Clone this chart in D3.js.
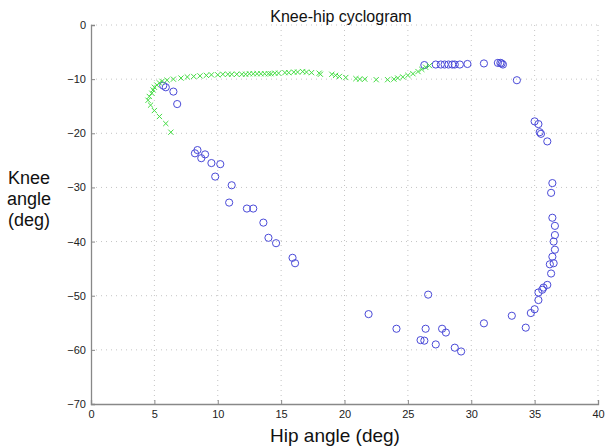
<!DOCTYPE html>
<html><head><meta charset="utf-8">
<script src="https://cdn.jsdelivr.net/npm/d3@7"></script>
<style>body{margin:0;background:#fff;font-family:Arial,"Liberation Sans",sans-serif}</style>
</head><body><svg id="c" width="611" height="446"></svg>
<script>
const xTicks = [0,5,10,15,20,25,30,35,40];
const yTicks = [0,-10,-20,-30,-40,-50,-60,-70];
const hipBlue = [26.3,27.2,27.6,27.9,28.2,28.5,28.7,29.1,29.7,31.0,32.1,32.3,32.4,32.5,33.6,
 35.0,35.3,35.4,35.5,36.0,36.4,36.3,36.4,36.6,36.6,36.5,36.6,36.4,36.5,36.2,36.3,36.0,35.7,35.6,35.3,35.3,35.0,34.7,34.3,33.2,31.0,
 26.6,21.9,24.1,26.4,27.7,28.0,26.0,26.3,27.2,28.7,29.2,
 5.7,5.9,6.5,6.8,8.2,8.4,9.0,8.7,9.5,10.2,9.8,11.1,10.9,12.3,12.8,13.6,14.0,14.6,15.9,16.1];
const kneeBlue = [-7.4,-7.3,-7.3,-7.3,-7.3,-7.3,-7.3,-7.3,-7.2,-7.1,-7.0,-7.0,-7.1,-7.3,-10.2,
 -17.8,-18.3,-19.8,-20.1,-21.5,-29.2,-31.0,-35.6,-37.1,-38.8,-40.0,-41.5,-42.8,-44.0,-44.2,-45.9,-48.0,-48.5,-48.9,-49.4,-50.8,-52.5,-53.2,-55.9,-53.7,-55.1,
 -49.8,-53.4,-56.1,-56.1,-56.1,-56.8,-58.2,-58.3,-59.0,-59.6,-60.3,
 -11.2,-11.5,-12.3,-14.6,-23.7,-23.1,-23.9,-24.6,-25.5,-25.7,-28.0,-29.6,-32.8,-33.9,-33.9,-36.5,-39.3,-40.3,-43.0,-44.0];
const hipGreen = [6.3,5.9,5.4,5.0,4.7,4.5,4.6,4.8,4.9,5.0,5.2,5.4,5.6,6.0,6.5,7.1,7.6,8.1,8.6,9.1,9.5,10.0,10.4,10.8,11.1,11.5,11.9,12.2,12.5,12.8,13.1,13.4,13.7,14.0,14.2,14.5,14.8,15.3,15.6,16.0,16.3,16.7,17.0,17.4,18.0,18.1,19.0,19.3,19.6,20.1,20.9,21.2,21.6,22.5,23.4,23.9,24.2,24.6,25.0,25.4,25.8,26.1,26.4,26.7];
const kneeGreen = [-19.8,-18.2,-16.9,-15.8,-14.8,-13.9,-13.2,-12.6,-12.0,-11.5,-11.1,-10.7,-10.4,-10.2,-10.0,-9.8,-9.6,-9.5,-9.4,-9.3,-9.2,-9.2,-9.1,-9.1,-9.1,-9.1,-9.1,-9.1,-9.0,-9.0,-9.0,-9.0,-9.0,-9.0,-9.0,-8.9,-8.9,-8.8,-8.8,-8.7,-8.7,-8.6,-8.7,-8.8,-8.9,-9.1,-9.1,-9.3,-9.5,-9.7,-9.9,-10.0,-10.0,-10.1,-10.1,-10.0,-9.8,-9.6,-9.3,-9.0,-8.6,-8.2,-7.8,-7.5];

const svg = d3.select("#c");
const L=91, R=598, T=25, B=404;
const x = d3.scaleLinear().domain([0,40]).range([L,R]);
const y = d3.scaleLinear().domain([-70,0]).range([B,T]);

// grid
const g = svg.append("g");
g.selectAll(".gx").data(xTicks.slice(1)).enter().append("line")
 .attr("x1",d=>x(d)).attr("x2",d=>x(d)).attr("y1",T).attr("y2",B)
 .attr("stroke","#c4c4c4").attr("stroke-width",1).attr("stroke-dasharray","1,4");
g.selectAll(".gy").data(yTicks.slice(0,-1)).enter().append("line")
 .attr("y1",d=>y(d)).attr("y2",d=>y(d)).attr("x1",L).attr("x2",R)
 .attr("stroke","#c4c4c4").attr("stroke-width",1).attr("stroke-dasharray","1,4");

// axes
const xa = svg.append("g").attr("transform",`translate(0,${B})`)
 .call(d3.axisBottom(x).tickValues(xTicks).tickSize(-4).tickPadding(6).tickFormat(d3.format("d")));
const ya = svg.append("g").attr("transform",`translate(${L},0)`)
 .call(d3.axisLeft(y).tickValues(yTicks).tickSize(-4).tickPadding(5).tickFormat(d=>d===0?"0":d3.format("d")(d)));
[xa,ya].forEach(a=>{
 a.select(".domain").attr("stroke","#888").attr("stroke-width",1.3);
 a.selectAll(".tick line").attr("stroke","#888");
 a.selectAll("text").attr("fill","#222").attr("font-size","11px").attr("font-family","Arial, Liberation Sans, sans-serif");
});

// data marks
svg.append("g").selectAll("circle").data(hipBlue.map((h,i)=>[h,kneeBlue[i]])).enter().append("circle")
 .attr("cx",d=>x(d[0])).attr("cy",d=>y(d[1])).attr("r",3.6)
 .attr("fill","none").attr("stroke","#4a4ad8").attr("stroke-width",1);
const s=2.6;
svg.append("g").selectAll("path").data(hipGreen.map((h,i)=>[h,kneeGreen[i]])).enter().append("path")
 .attr("d",d=>{const cx=x(d[0]),cy=y(d[1]);return `M${cx-s},${cy-s}L${cx+s},${cy+s}M${cx-s},${cy+s}L${cx+s},${cy-s}`;})
 .attr("stroke","#44dd44").attr("stroke-width",1);

// titles
svg.append("text").attr("x",341).attr("y",22).attr("text-anchor","middle")
 .attr("font-size","16px").attr("fill","#111").text("Knee-hip cyclogram");
svg.append("text").attr("x",335).attr("y",442).attr("text-anchor","middle")
 .attr("font-size","19px").attr("fill","#111").text("Hip angle (deg)");
const yl = svg.append("text").attr("text-anchor","middle").attr("font-size","18px").attr("fill","#111");
["Knee","angle","(deg)"].forEach((t,i)=>yl.append("tspan").attr("x",29).attr("y",184+i*21).text(t));
</script></body></html>
